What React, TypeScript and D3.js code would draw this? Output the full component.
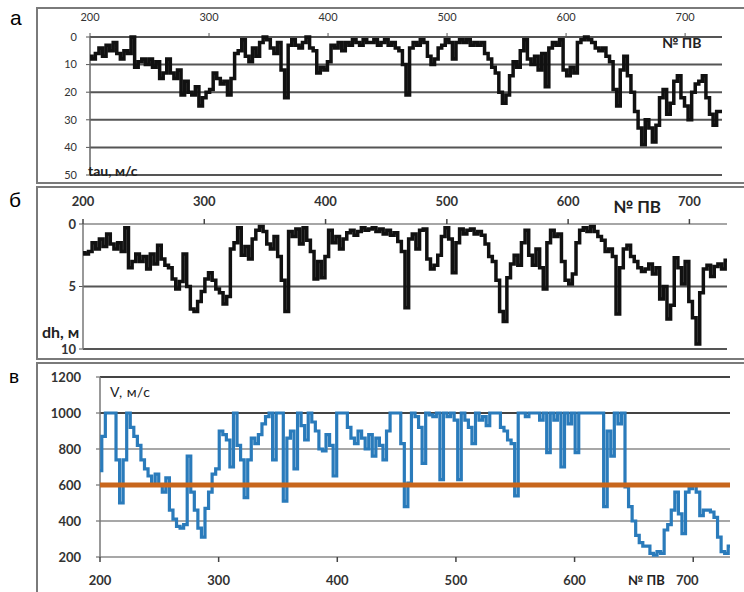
import React from 'react';
import * as d3 from 'd3';

// № ПВ sampling of the three profiles
const pvStart = 200;
const pvStep = 3;

// a: tau, м/с
const tauValues = [
  7, 8, 6, 4, 7, 3, 5, 2, 6, 8, 5, 6, 0, 11, 9, 8, 10, 8, 11, 9,
  15, 13, 8, 13, 15, 12, 21, 16, 20, 21, 18, 25, 22, 20, 19, 13, 15, 17, 16, 21,
  15, 6, 5, 1, 7, 9, 4, 7, 2, 0, 1, 4, 6, 2, 12, 22, 3, 1, 3, 4,
  2, 0, 4, 5, 13, 11, 12, 9, 3, 4, 2, 5, 2, 3, 1, 2, 3, 1, 2, 2,
  1, 3, 2, 1, 3, 2, 4, 5, 10, 21, 4, 2, 3, 1, 2, 7, 10, 8, 4, 3,
  1, 2, 8, 2, 1, 2, 1, 3, 2, 3, 2, 6, 8, 11, 13, 20, 24, 21, 14, 9,
  11, 5, 1, 8, 10, 7, 12, 6, 18, 4, 2, 3, 1, 12, 14, 11, 13, 2, 1, 0,
  1, 2, 4, 5, 4, 7, 9, 19, 25, 12, 7, 14, 20, 27, 33, 39, 30, 33, 38, 32,
  22, 19, 28, 24, 16, 14, 22, 25, 30, 20, 17, 16, 14, 22, 28, 32, 27, 27,
];

// б: dh, м
const dhValues = [
  2.3, 2.4, 2.2, 1.5, 2.0, 1.2, 1.8, 0.8, 1.6, 2.0, 1.5, 2.2, 0.3, 3.5, 3.0, 2.4, 3.0, 2.6, 3.6, 2.4,
  3.2, 1.7, 2.8, 3.3, 3.5, 4.4, 5.2, 4.6, 2.4, 5.0, 6.8, 7.0, 6.2, 5.4, 4.4, 3.9, 4.5, 5.2, 5.5, 6.4,
  5.8, 2.0, 1.5, 0.3, 2.5, 1.8, 2.8, 1.2, 0.5, 0.2, 0.6, 1.6, 2.0, 1.0, 2.6, 4.5, 7.0, 0.6, 1.0, 0.4,
  1.6, 0.3, 1.3, 2.2, 4.4, 3.0, 4.3, 2.6, 0.5, 1.5, 1.0, 2.0, 1.2, 0.7, 0.5, 0.9, 0.6, 0.3, 0.5, 0.4,
  0.3, 0.6, 0.4, 0.8, 0.5, 0.9, 0.7, 1.4, 2.2, 6.7, 1.2, 0.8, 2.0, 0.5, 0.4, 2.8, 3.6, 3.3, 2.5, 1.0,
  0.3, 1.2, 3.9, 1.5, 0.4, 0.8, 0.5, 0.4, 0.8, 0.6, 0.9, 1.6, 2.6, 3.0, 4.5, 7.0, 7.8, 4.3, 3.2, 2.5,
  3.3, 1.5, 0.5, 2.5, 3.3, 2.0, 3.5, 5.2, 1.5, 0.5, 1.0, 0.8, 3.0, 4.5, 4.8, 4.0, 1.5, 0.5, 0.3, 0.6,
  0.2, 0.6, 1.0, 1.3, 2.2, 2.0, 2.6, 7.2, 3.5, 2.0, 1.7, 2.6, 3.0, 3.5, 3.8, 3.6, 3.2, 4.0, 3.5, 6.0,
  5.0, 7.6, 6.5, 2.7, 3.5, 4.8, 3.0, 6.2, 7.5, 9.6, 5.5, 3.6, 3.3, 4.2, 3.4, 3.2, 3.6, 2.9,
];

// в: V, м/с
const vValues = [
  680, 870, 1000, 1000, 1000, 740, 500, 740, 1000, 920, 870, 820, 740, 690, 650, 600, 660, 600, 560, 640,
  460, 410, 370, 360, 380, 760, 560, 460, 360, 310, 470, 560, 660, 690, 900, 880, 850, 700, 1000, 820,
  740, 530, 740, 860, 830, 880, 940, 980, 1000, 740, 1000, 1000, 510, 860, 900, 690, 1000, 930, 850, 1000,
  950, 900, 800, 790, 880, 820, 650, 1000, 1000, 1000, 920, 860, 830, 900, 860, 800, 880, 760, 860, 820,
  740, 900, 1000, 1000, 1000, 830, 480, 610, 1000, 980, 920, 720, 1000, 990, 980, 1000, 630, 1000, 980, 1000,
  960, 630, 1000, 960, 920, 830, 1000, 960, 980, 930, 1000, 1000, 1000, 920, 900, 850, 830, 540, 1000, 1000,
  980, 1000, 1000, 1000, 960, 1000, 780, 1000, 960, 1000, 700, 1000, 940, 1000, 780, 1000, 1000, 1000, 1000, 1000,
  1000, 1000, 480, 900, 760, 1000, 940, 1000, 590, 480, 400, 320, 280, 260, 260, 220, 210, 230, 220, 350,
  380, 460, 560, 440, 330, 560, 580, 600, 560, 430, 460, 460, 450, 420, 310, 230, 220, 260,
];

const pvTicks = [200, 300, 400, 500, 600, 700];
const tauTicks = [0, 10, 20, 30, 40, 50];
const dhTicks = [0, 5, 10];
const vTicks = [200, 400, 600, 800, 1000, 1200];
const vThreshold = 600;

const pvEnd = 731;
const font = 'Lato, "Open Sans", sans-serif';

const toPoints = (vals: number[]): [number, number][] =>
  vals.map((v, i) => [pvStart + i * pvStep, v]);

const makeLine = (x, y) =>
  d3.line<[number, number]>()
    .x((d) => x(d[0]))
    .y((d) => y(d[1]))
    .curve(d3.curveStep);

const PanelA = () => {
  const x = d3.scaleLinear().domain([pvStart, pvEnd]).range([90, 722]);
  const y = d3.scaleLinear().domain([0, 50]).range([37, 175]);
  const line = makeLine(x, y);
  return (
    <g>
      <rect x={37} y={8} width={720} height={175} fill="#fff" stroke="#7a7a7a" strokeWidth={2} />
      <text x={10} y={25} fontSize={21} fontFamily="Liberation Sans, Arial">а</text>
      {tauTicks.map((t) => (
        <g key={t}>
          <line x1={90} x2={722} y1={y(t)} y2={y(t)} stroke="#555" strokeWidth={2} />
          <line x1={86} x2={90} y1={y(t)} y2={y(t)} stroke="#555" />
          <text x={77} y={y(t)} dy="0.35em" textAnchor="end" fontSize={11} fontFamily={font} fill="#333">{t}</text>
        </g>
      ))}
      <line x1={90} x2={90} y1={y(0)} y2={y(50)} stroke="#666" strokeWidth={1.5} />
      {pvTicks.map((t) => (
        <g key={t}>
          <line x1={x(t)} x2={x(t)} y1={y(0) - 4} y2={y(0)} stroke="#555" />
          <text x={x(t)} y={21} textAnchor="middle" fontSize={11} fontFamily={font} fill="#333">{t}</text>
        </g>
      ))}
      <path d={line(toPoints(tauValues)) || ''} fill="none" stroke="#111" strokeWidth={3.5} />
      <text x={88} y={176} fontSize={14} fontWeight="bold" fontFamily={font} fill="#222">tau, м/с</text>
      <text x={662} y={48} fontSize={14} fontWeight="bold" fontFamily={font} fill="#222">№ ПВ</text>
    </g>
  );
};

const PanelB = () => {
  const x = d3.scaleLinear().domain([pvStart, pvEnd]).range([83, 727]);
  const y = d3.scaleLinear().domain([0, 10]).range([224, 349]);
  const line = makeLine(x, y);
  return (
    <g>
      <rect x={37} y={187} width={720} height={172} fill="#fff" stroke="#7a7a7a" strokeWidth={2} />
      <text x={9} y={207} fontSize={21} fontFamily="Liberation Sans, Arial">б</text>
      {dhTicks.map((t) => (
        <g key={t}>
          <line x1={83} x2={727} y1={y(t)} y2={y(t)} stroke={t === 0 ? '#888' : '#555'} strokeWidth={t === 0 ? 1.5 : 2} />
          <line x1={79} x2={83} y1={y(t)} y2={y(t)} stroke="#555" />
          <text x={76} y={y(t)} dy="0.35em" textAnchor="end" fontSize={13} fontWeight="bold" fontFamily={font} fill="#333">{t}</text>
        </g>
      ))}
      <line x1={83} x2={83} y1={y(0)} y2={y(10)} stroke="#777" strokeWidth={1.5} />
      {pvTicks.map((t) => (
        <g key={t}>
          <line x1={x(t)} x2={x(t)} y1={y(0) - 5} y2={y(0)} stroke="#444" strokeWidth={1.5} />
          <text x={x(t)} y={206} textAnchor="middle" fontSize={13} fontWeight="bold" fontFamily={font} fill="#333">{t}</text>
        </g>
      ))}
      <path d={line(toPoints(dhValues)) || ''} fill="none" stroke="#111" strokeWidth={3.5} />
      <text x={42} y={338} fontSize={16} fontWeight="bold" fontFamily={font} fill="#222">dh, м</text>
      <text x={613} y={213} fontSize={17} fontWeight="bold" fontFamily={font} fill="#222">№ ПВ</text>
    </g>
  );
};

const PanelC = () => {
  const x = d3.scaleLinear().domain([pvStart, pvEnd]).range([100, 730]);
  const y = d3.scaleLinear().domain([200, 1200]).range([557, 377]);
  const line = makeLine(x, y);
  return (
    <g>
      <rect x={37} y={363} width={720} height={240} fill="#fff" stroke="#7a7a7a" strokeWidth={2} />
      <text x={9} y={383} fontSize={19} fontFamily="Liberation Sans, Arial">в</text>
      {vTicks.map((t) => (
        <g key={t}>
          <line x1={100} x2={730} y1={y(t)} y2={y(t)}
            stroke={t >= 1000 ? '#444' : '#8a8a8a'} strokeWidth={t >= 1000 ? 2 : 1.5} />
          <line x1={96} x2={100} y1={y(t)} y2={y(t)} stroke="#555" />
          <text x={81} y={y(t)} dy="0.35em" textAnchor="end" fontSize={13} fontWeight="bold" fontFamily={font} fill="#333">{t}</text>
        </g>
      ))}
      <line x1={100} x2={100} y1={y(200)} y2={y(1200)} stroke="#777" strokeWidth={1.5} />
      {pvTicks.map((t) => (
        <g key={t}>
          <line x1={x(t)} x2={x(t)} y1={y(200)} y2={y(200) + 5} stroke="#444" strokeWidth={1.5} />
          <text x={t === 700 ? x(t) - 6 : x(t)} y={585} textAnchor="middle" fontSize={13} fontWeight="bold" fontFamily={font} fill="#333">{t}</text>
        </g>
      ))}
      <path d={line(toPoints(vValues)) || ''} fill="none" stroke="#2a7bbb" strokeWidth={3.2} />
      <line x1={100} x2={730} y1={y(vThreshold)} y2={y(vThreshold)} stroke="#c8661c" strokeWidth={5} />
      <text x={110} y={397} fontSize={14} fontFamily={font} fill="#222" letterSpacing={0.5}>V, м/с</text>
      <text x={628} y={585} fontSize={13} fontWeight="bold" fontFamily={font} fill="#222">№ ПВ</text>
    </g>
  );
};

export default function App() {
  return (
    <svg width={744} height={592} style={{ position: 'absolute', left: 0, top: 0, background: '#fff' }}>
      <rect width={744} height={592} fill="#fff" />
      <PanelA />
      <PanelB />
      <PanelC />
    </svg>
  );
}
